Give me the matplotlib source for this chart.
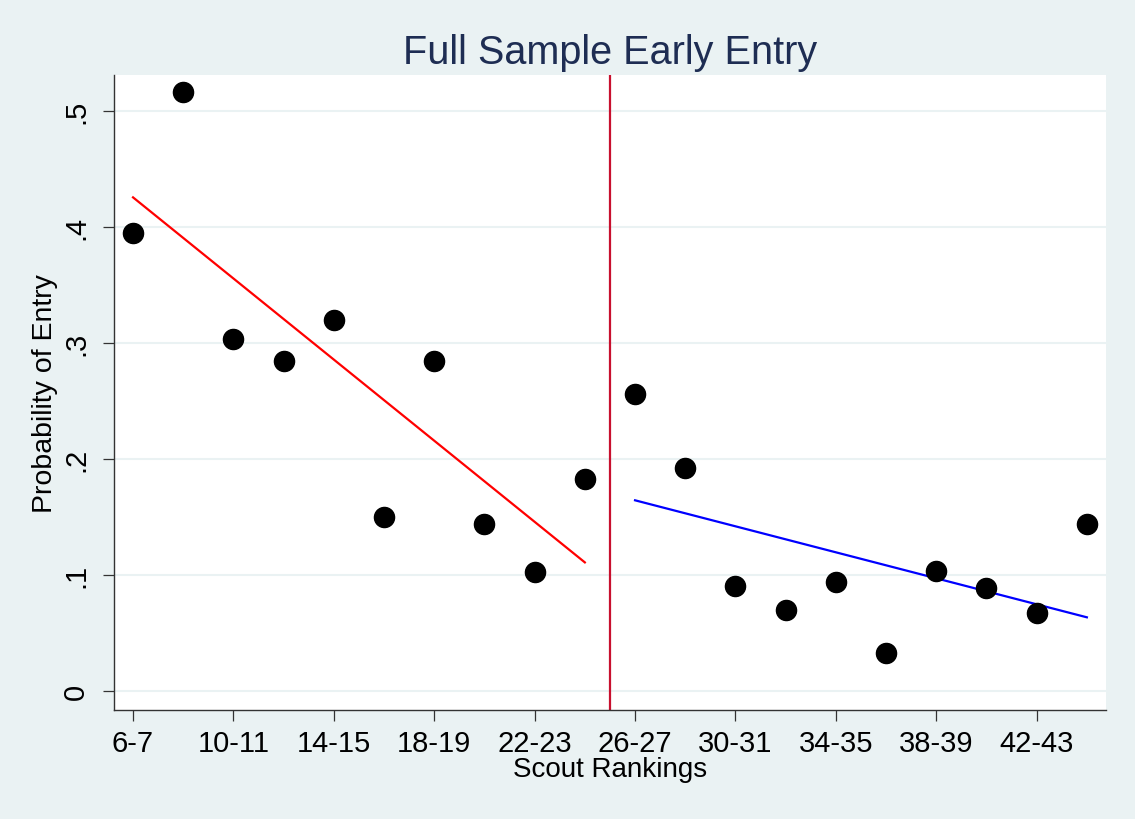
import matplotlib.pyplot as plt
import numpy as np

# scout ranking bins, one point per bin
rank_labels = ['6-7', '8-9', '10-11', '12-13', '14-15', '16-17', '18-19', '20-21',
               '22-23', '24-25', '26-27', '28-29', '30-31', '32-33', '34-35', '36-37',
               '38-39', '40-41', '42-43', '44-45']
prob_entry = [0.395, 0.516, 0.303, 0.284, 0.320, 0.150, 0.284, 0.144, 0.102, 0.183,
              0.256, 0.192, 0.090, 0.070, 0.094, 0.033, 0.103, 0.089, 0.067, 0.144]
cutoff = 10.5

plt.rcParams['font.family'] = ['Liberation Sans', 'DejaVu Sans']

bg = '#EAF2F3'
fig = plt.figure(figsize=(11.35, 8.2), dpi=100, facecolor=bg)
ax = fig.add_axes([0.1004, 0.1329, 0.874, 0.7744])
ax.set_facecolor('white')

x = np.arange(1, len(rank_labels) + 1)
y = np.array(prob_entry)

ax.scatter(x, y, s=210, color='black', zorder=3)

# linear fits on each side of the cutoff
left = x < cutoff
right = x > cutoff
b1 = np.polyfit(x[left], y[left], 1)
b2 = np.polyfit(x[right], y[right], 1)
ax.plot(x[left], np.polyval(b1, x[left]), color='red', lw=1.6, zorder=2)
ax.plot(x[right], np.polyval(b2, x[right]), color='blue', lw=1.6, zorder=2)

ax.axvline(cutoff, color='#C8102E', lw=1.6, zorder=2)

ax.set_xlim(0.62, 20.38)
ax.set_ylim(-0.0166, 0.531)

yt = [0, 0.1, 0.2, 0.3, 0.4, 0.5]
ax.set_yticks(yt)
ax.set_yticklabels(['0', '.1', '.2', '.3', '.4', '.5'], rotation=90, va='center')
ax.set_xticks(x[::2])
ax.set_xticklabels(rank_labels[::2])
ax.grid(axis='y', color=bg, lw=1.5)
ax.set_axisbelow(True)

for s in ['top', 'right']:
    ax.spines[s].set_visible(False)
for s in ['left', 'bottom']:
    ax.spines[s].set_color('#333333')
    ax.spines[s].set_linewidth(1.0)

ax.tick_params(axis='both', direction='out', length=8, width=0.9, color='#333333',
               labelsize=21, labelcolor='black')
ax.tick_params(axis='y', pad=9)
ax.tick_params(axis='x', pad=6)

ax.set_xlabel('Scout Rankings', fontsize=20, labelpad=-1)
ax.set_ylabel('Probability of Entry', fontsize=20.5, labelpad=3)
ax.set_title('Full Sample Early Entry', fontsize=28.5, color='#1E2D53', pad=9)

fig.savefig('out.png', dpi=100, facecolor=bg)
